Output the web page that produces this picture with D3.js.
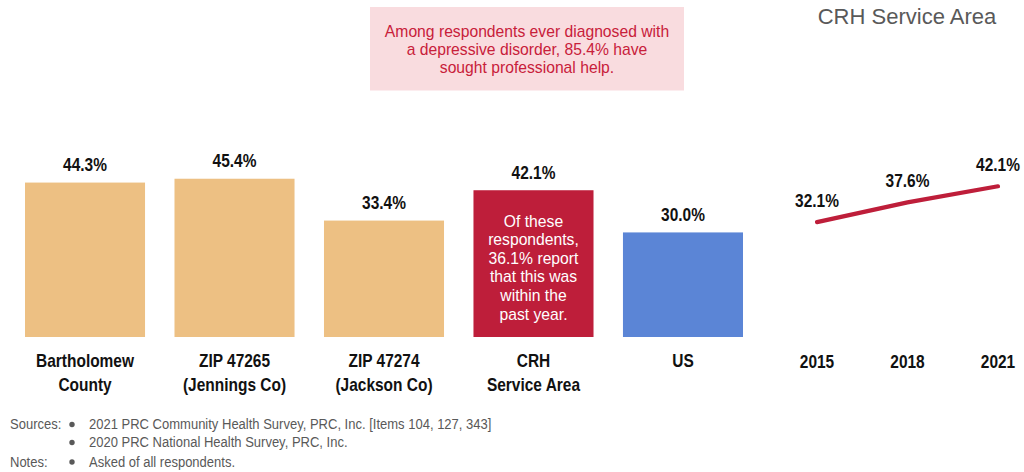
<!DOCTYPE html>
<html><head><meta charset="utf-8">
<script src="https://cdn.jsdelivr.net/npm/d3@7"></script>
<style>
body{margin:0;background:#fff;}
svg{display:block;}
text{font-family:"Liberation Sans",Arial,sans-serif;}
</style></head>
<body>
<svg id="chart" width="1024" height="472"></svg>
<script>
const categories = [["Bartholomew","County"],["ZIP 47265","(Jennings Co)"],["ZIP 47274","(Jackson Co)"],["CRH","Service Area"],["US"]];
const barValues = [44.3, 45.4, 33.4, 42.1, 30.0];
const barColors = ["#EDC083","#EDC083","#EDC083","#BE1E3A","#5B85D6"];
const years = ["2015","2018","2021"];
const trendValues = [32.1, 37.6, 42.1];
const crhNote = ["Of these","respondents,","36.1% report","that this was","within the","past year."];
const calloutLines = ["Among respondents ever diagnosed with","a depressive disorder, 85.4% have","sought professional help."];
const sources = ["2021 PRC Community Health Survey, PRC, Inc. [Items 104, 127, 343]","2020 PRC National Health Survey, PRC, Inc."];
const notes = ["Asked of all respondents."];

const svg = d3.select("#chart");
const base = 337;
const NX = 0.86; // condensed look

function boldLabel(g, x, y, str) {
  return g.append("text")
    .attr("transform", `translate(${x},${y}) scale(${NX},1)`)
    .attr("text-anchor","middle").attr("font-size",18).attr("font-weight","bold").attr("fill","#111")
    .text(str);
}

// bar chart
const x = d3.scaleBand().domain(d3.range(categories.length)).range([25, 743]).paddingInner(0.197).paddingOuter(0);
const y = d3.scaleLinear().domain([0, 50]).range([base, base - 174.3]);

svg.selectAll("rect.bar").data(barValues).enter().append("rect")
  .attr("class","bar")
  .attr("x",(d,i)=>x(i)).attr("width",x.bandwidth())
  .attr("y",d=>y(d)).attr("height",d=>base-y(d))
  .attr("fill",(d,i)=>barColors[i]);

barValues.forEach((d,i)=>boldLabel(svg, x(i)+x.bandwidth()/2, y(d)-11.5, d.toFixed(1)+"%"));

categories.forEach((c,i)=>{
  c.forEach((line,j)=>boldLabel(svg, x(i)+x.bandwidth()/2, 367+j*23.5, line));
});

// note inside CRH bar
const nt = svg.append("text").attr("text-anchor","middle").attr("font-size",15.7).attr("fill","#fff");
crhNote.forEach((l,j)=>{
  nt.append("tspan").attr("x",x(3)+x.bandwidth()/2).attr("y",226.5+j*18.6).text(l);
});

// trend line
const xl = d3.scalePoint().domain(years).range([817, 998]);
const yl = d3.scaleLinear().domain([0, 50]).range([base, base - 179]);
svg.append("path").datum(trendValues)
  .attr("d", d3.line().x((d,i)=>xl(years[i])).y(d=>yl(d)))
  .attr("fill","none").attr("stroke","#BE1E3A").attr("stroke-width",4.2).attr("stroke-linecap","round");
trendValues.forEach((d,i)=>boldLabel(svg, xl(years[i]), yl(d)-15, d.toFixed(1)+"%"));
years.forEach(d=>boldLabel(svg, xl(d), 368, d));

// callout
svg.append("rect").attr("x",370).attr("y",7).attr("width",314).attr("height",83.5).attr("fill","#F9DCDF");
const ct = svg.append("text").attr("text-anchor","middle").attr("font-size",15.7).attr("fill","#C8203A");
calloutLines.forEach((l,j)=>ct.append("tspan").attr("x",527).attr("y",36.5+j*18.4).text(l));

// header
svg.append("text").attr("x",907).attr("y",23.5).attr("text-anchor","middle")
  .attr("font-size",22).attr("fill","#595959").text("CRH Service Area");

// footnotes
const fn = svg.append("g").attr("fill","#595959");
function fnText(x0, y0, s) {
  fn.append("text").attr("transform",`translate(${x0},${y0}) scale(0.84,1)`).attr("font-size",15.5).text(s);
}
fnText(10, 429, "Sources:");
sources.forEach((s,j)=>{
  fn.append("circle").attr("cx",72).attr("cy",424.5+j*18).attr("r",2.7);
  fnText(89, 429+j*18, s);
});
fnText(10, 466.5, "Notes:");
notes.forEach((s,j)=>{
  fn.append("circle").attr("cx",72).attr("cy",462+j*18).attr("r",2.7);
  fnText(89, 466.5+j*18, s);
});
</script>
</body></html>
